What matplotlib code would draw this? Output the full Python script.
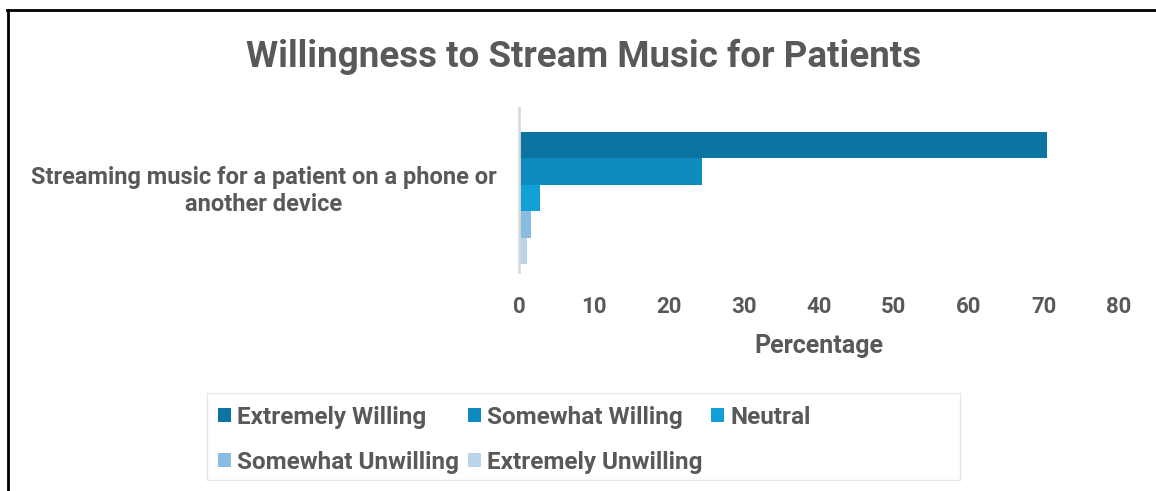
import matplotlib
matplotlib.use('Agg')
import matplotlib.pyplot as plt
from matplotlib.patches import Rectangle
from matplotlib.lines import Line2D

# Data
category = 'Streaming music for a patient on a phone or\nanother device'
responses = ['Extremely Willing', 'Somewhat Willing', 'Neutral',
             'Somewhat Unwilling', 'Extremely Unwilling']
percentages = [70.4, 24.4, 2.8, 1.6, 1.0]
colors = ['#0B74A0', '#0E8BBE', '#10A0D6', '#8ABCE2', '#BAD4EA']

text_color = '#595959'
fam = ['Roboto', 'DejaVu Sans']

fig = plt.figure(figsize=(11.56, 4.91), dpi=100)
ax = fig.add_axes([519 / 1156, 1 - 272 / 491, 600 / 1156, 164 / 491])

# Five bars stacked inside one category slot
bar_h = 0.161
for i, (label, val, col) in enumerate(zip(responses, percentages, colors)):
    ax.barh(0 + (i - 2) * bar_h, val, height=bar_h, color=col, label=label)

ax.set_xlim(0, 80)
ax.set_ylim(0.451, -0.549)
ax.set_xticks(range(0, 81, 10))
ax.set_yticks([])

# category label next to its slot (nudged up a little like Excel does)
ax.annotate(category, xy=(0, 0), xycoords=ax.get_yaxis_transform(),
            xytext=(-16, 5), textcoords='offset points',
            ha='right', va='center', multialignment='center',
            family=fam, fontweight='bold', fontsize=17, color=text_color,
            annotation_clip=False)

for t in ax.get_xticklabels():
    t.set_family(fam)
    t.set_fontweight('bold')
    t.set_fontsize(16)
    t.set_color(text_color)
ax.tick_params(axis='both', length=0)
ax.tick_params(axis='x', pad=17)
for side in ['top', 'right', 'bottom']:
    ax.spines[side].set_visible(False)
ax.spines['left'].set_color('#D9D9D9')
ax.spines['left'].set_linewidth(2)
ax.set_xlabel('Percentage', family=fam, fontweight='bold', fontsize=18,
              color=text_color, labelpad=12)

fig.suptitle('Willingness to Stream Music for Patients', family=fam,
             fontweight='bold', fontsize=26.5, color=text_color,
             x=584 / 1156, y=1 - 57 / 491, va='center')

# Legend, filled row by row like the original
handles, labels = ax.get_legend_handles_labels()
order = [0, 3, 1, 4, 2]
leg = fig.legend([handles[i] for i in order], [labels[i] for i in order],
                 ncol=3, loc='upper left', bbox_to_anchor=(208 / 1156, 1 - 396 / 491),
                 frameon=False, handlelength=0.55, handleheight=0.55,
                 handletextpad=0.25, columnspacing=0.35, labelspacing=0.9,
                 borderaxespad=0, prop={'family': fam, 'weight': 'bold', 'size': 17.5})
for t in leg.get_texts():
    t.set_color(text_color)

fig.patches.append(Rectangle((207 / 1156, 1 - 480 / 491), 753 / 1156, 87 / 491,
                             transform=fig.transFigure, fill=False,
                             edgecolor='#E6E6E6', linewidth=1))

# Outer border (left and top only, as cropped in the reference)
fig.add_artist(Line2D([7.5 / 1156, 7.5 / 1156], [0, 1 - 10 / 491],
                      transform=fig.transFigure, color='black', linewidth=2))
fig.add_artist(Line2D([6.5 / 1156, 1], [1 - 10 / 491, 1 - 10 / 491],
                      transform=fig.transFigure, color='black', linewidth=2))

fig.savefig('out.png', dpi=100, facecolor='white')
